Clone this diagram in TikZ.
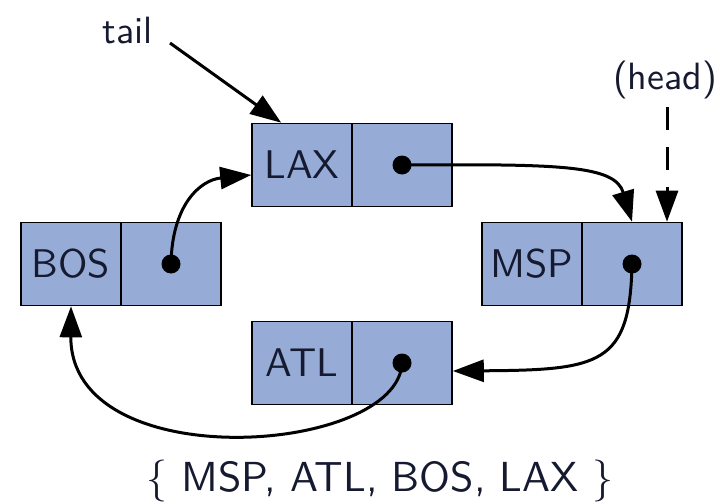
\documentclass[tikz,border=0pt]{standalone}
\usepackage{fontspec}
\usetikzlibrary{arrows.meta,calc}
% text-size cut of Latin Modern Sans, used at display sizes
\newfontfamily\lmssten{lmsans10-regular.otf}
\definecolor{cellfill}{RGB}{150,172,214}
\definecolor{ink}{RGB}{22,26,48}
\begin{document}
\begin{tikzpicture}[x=1pt,y=-1pt,
  cell/.style={draw=black,line width=1.6pt,fill=cellfill,
    minimum width=100pt,minimum height=83pt,inner sep=0pt,
    font=\lmssten\fontsize{40}{48}\selectfont,text=ink},
  ptr/.style={line width=3pt,-{Triangle[length=31pt,width=22pt]}},
  lbl/.style={font=\lmssten\fontsize{38}{46}\selectfont,text=ink},
  dot/.style={fill=black}]
\useasboundingbox (0,0) rectangle (728,503);

% list cells: key | next pointer
\node[cell] (laxK) at (302,165) {LAX};
\node[cell] (laxP) at (402,165) {};
\node[cell] (bosK) at (71,264) {BOS};
\node[cell] (bosP) at (171,264) {};
\node[cell] (mspK) at (532,264) {MSP};
\node[cell] (mspP) at (632,264) {};
\node[cell] (atlK) at (302,363) {ATL};
\node[cell] (atlP) at (402,363) {};

% pointer dots
\foreach \p in {laxP,bosP,mspP,atlP}
  \fill[dot] (\p.center) circle (9.5pt);

% next links
\draw[ptr] (laxP.center) .. controls (560,164) and (615,165) .. (mspP.north);
\draw[ptr] (mspP.center) .. controls (630,365) and (600,370) .. ($(atlP.east)+(0,8)$);
\draw[ptr] (atlP.center) .. controls (398,455) and (70,478) .. (bosK.south);
\draw[ptr] (bosP.center) .. controls (172,205) and (200,180) .. ($(laxK.west)+(0,10)$);

% tail and head labels
\node[lbl] (tail) at (128,31) {tail};
\coordinate (tailstart) at (170,43);
\draw[ptr] (tailstart) -- ($(laxK.north west)+(30,0)$);

\node[lbl] (head) at (665,80) {(head)};
\coordinate (headstart) at ($(mspP.north)+(35,-115)$);
\draw[ptr,dash pattern=on 23pt off 17pt] (headstart) -- ($(mspP.north)+(35,0)$);

% the set the list holds
\node[font=\lmssten\fontsize{42}{50}\selectfont,text=ink] (set) at (380,481)
  {\{ MSP, ATL, BOS, LAX \}};
\end{tikzpicture}
\end{document}
